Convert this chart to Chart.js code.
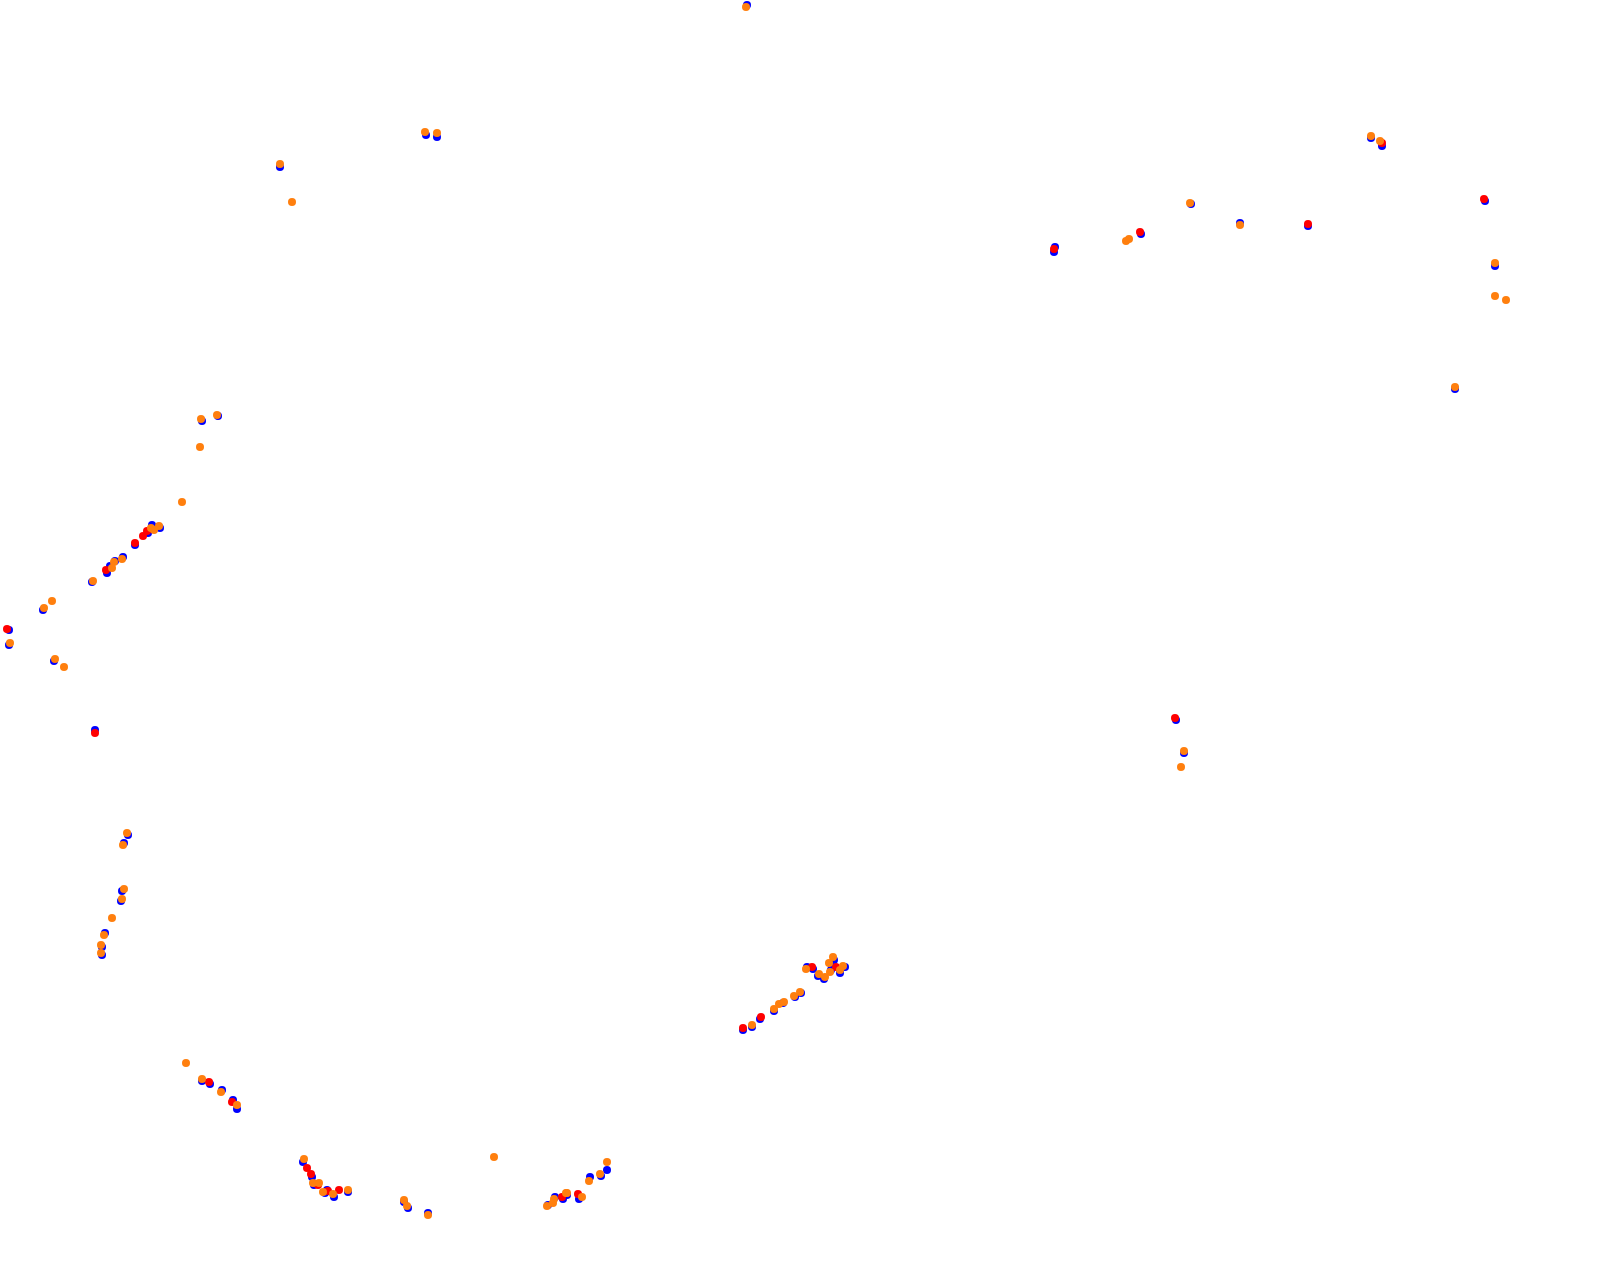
<!DOCTYPE html>
<html><head><meta charset="utf-8">
<script src="https://cdn.jsdelivr.net/npm/chart.js@4/dist/chart.umd.min.js"></script>
<style>html,body{margin:0;padding:0;background:#fff;overflow:hidden}</style>
</head><body>
<canvas id="c" width="1609" height="1282"></canvas>
<script>
const blueX = [747,280,426,437,202,218,152,160,148,135,123,115,110,107,92,43,9,9,54,95,128,124,122,121,105,102,102,202,210,222,233,237,303,312,314,327,325,334,348,404,408,428,548,555,563,567,579,590,601,607,743,752,760,774,783,795,801,807,813,818,824,831,834,832,845,840,1055,1054,1141,1191,1240,1308,1371,1382,1485,1495,1455,1176,1184];
const blueY = [5,167,135,137,421,416,525,528,533,545,557,561,566,573,582,610,630,645,661,730,835,843,891,901,933,947,955,1081,1084,1090,1100,1109,1162,1177,1185,1190,1193,1197,1192,1202,1208,1213,1205,1197,1199,1195,1199,1177,1176,1170,1030,1027,1019,1011,1003,997,993,967,969,976,979,970,960,965,967,973,247,252,234,204,223,226,138,146,201,266,389,720,753];
const redX = [147,143,135,106,7,95,209,232,307,311,318,328,339,562,578,743,761,812,836,1054,1140,1308,1382,1484,1175];
const redY = [531,536,543,570,629,733,1082,1102,1168,1174,1185,1191,1190,1197,1194,1028,1017,967,967,249,232,224,143,199,718];
const orangeX = [746,280,292,425,437,201,217,200,182,159,151,154,122,114,112,93,52,44,10,55,64,127,123,124,122,112,104,101,101,186,202,221,237,304,313,319,323,333,348,404,407,428,494,547,553,554,567,566,582,589,600,607,752,774,779,784,794,800,806,819,825,830,833,829,843,840,1126,1129,1190,1240,1371,1380,1495,1495,1506,1455,1184,1181];
const orangeY = [7,164,202,132,133,419,415,447,502,526,528,530,559,562,568,581,601,608,643,659,667,833,845,889,899,918,935,945,953,1063,1079,1092,1105,1159,1183,1183,1192,1194,1190,1200,1206,1215,1157,1206,1203,1199,1193,1193,1197,1181,1174,1162,1025,1009,1004,1002,996,992,969,974,977,972,957,963,966,970,241,239,203,225,136,141,263,296,300,387,751,767];

function pts(xs, ys){ return xs.map((x,i)=>({x:x,y:ys[i]})); }

new Chart(document.getElementById('c'), {
  type: 'scatter',
  data: { datasets: [
    { label:'A', data: pts(blueX, blueY), backgroundColor:'#0000ff', borderWidth:0, pointRadius:4, order:3, clip:false },
    { label:'B', data: pts(redX, redY), backgroundColor:'#ff0000', borderWidth:0, pointRadius:4, order:2, clip:false },
    { label:'C', data: pts(orangeX, orangeY), backgroundColor:'#ff7f0e', borderWidth:0, pointRadius:4, order:1, clip:false }
  ]},
  options: {
    responsive:false, animation:false,
    layout:{padding:0, autoPadding:false},
    plugins:{legend:{display:false}, tooltip:{enabled:false}},
    scales:{
      x:{type:'linear', display:false, min:0, max:1609},
      y:{type:'linear', display:false, min:0, max:1282, reverse:true}
    }
  }
});
</script>
</body></html>
